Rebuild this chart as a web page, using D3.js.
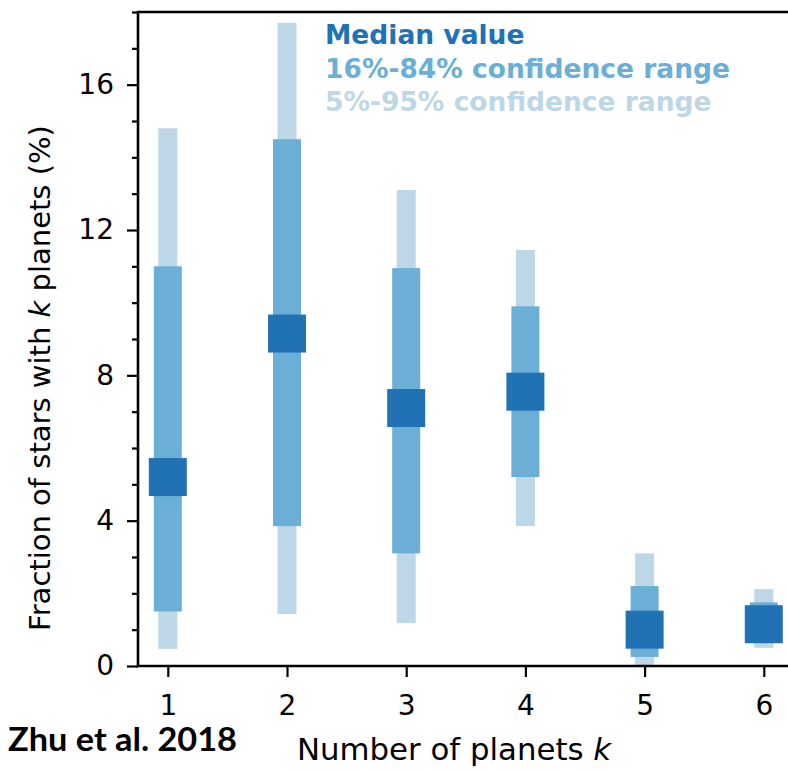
<!DOCTYPE html>
<html>
<head>
<meta charset="utf-8">
<script src="https://cdn.jsdelivr.net/npm/d3@7"></script>
<style>
  html, body { margin: 0; padding: 0; background: #fff; }
  svg { display: block; }
</style>
</head>
<body>
<svg id="chart" width="788" height="770"></svg>
<script>
// Number of planets per star
const categories = [1, 2, 3, 4, 5, 6];
// Median fraction of stars (%)
const median = [5.2, 9.15, 7.1, 7.55, 1.0, 1.15];
// 16%-84% confidence range
const p16 = [1.5, 3.85, 3.1, 5.2, 0.25, 0.7];
const p84 = [11.0, 14.5, 10.95, 9.9, 2.2, 1.75];
// 5%-95% confidence range
const p5 = [0.47, 1.43, 1.18, 3.85, 0.0, 0.5];
const p95 = [14.8, 17.7, 13.1, 11.45, 3.1, 2.12];
// Axis ticks
const yMajorTicks = [0, 4, 8, 12, 16];
const yMinorTicks = d3.range(0, 19, 1);
const legendItems = ["Median value", "16%-84% confidence range", "5%-95% confidence range"];

const colDark = "#2171b5", colMid = "#6baed6", colLight = "#bdd7e7";

const svg = d3.select("#chart");
const plotLeft = 138, plotBottom = 666, plotTop = 12;

const x = d3.scaleLinear().domain([0.75, 6.25]).range([plotLeft, plotLeft + 5.5 * 119.2]);
const y = d3.scaleLinear().domain([0, 18]).range([plotBottom, plotTop]);

const rows = categories.map((k, i) => ({ k, med: median[i], lo1: p16[i], hi1: p84[i], lo2: p5[i], hi2: p95[i] }));

// 5%-95% bars
svg.append("g").selectAll("rect").data(rows).join("rect")
  .attr("x", d => x(d.k) - 9.5).attr("width", 19)
  .attr("y", d => y(d.hi2)).attr("height", d => y(d.lo2) - y(d.hi2))
  .attr("fill", colLight);

// 16%-84% bars
svg.append("g").selectAll("rect").data(rows).join("rect")
  .attr("x", d => x(d.k) - 14).attr("width", 28)
  .attr("y", d => y(d.hi1)).attr("height", d => y(d.lo1) - y(d.hi1))
  .attr("fill", colMid);

// median square markers
svg.append("g").selectAll("rect").data(rows).join("rect")
  .attr("x", d => x(d.k) - 19).attr("width", 38)
  .attr("y", d => y(d.med) - 19).attr("height", 38)
  .attr("fill", colDark);

// y axis: minor ticks then major ticks with labels
const yMinor = svg.append("g").attr("transform", `translate(${plotLeft},0)`)
  .call(d3.axisLeft(y).tickValues(yMinorTicks.filter(v => !yMajorTicks.includes(v))).tickSize(6).tickFormat(""));
const yMajor = svg.append("g").attr("transform", `translate(${plotLeft},0)`)
  .call(d3.axisLeft(y).tickValues(yMajorTicks).tickSize(11).tickPadding(13));
[yMinor, yMajor].forEach(g => {
  g.select(".domain").remove();
  g.selectAll("line").attr("stroke", "#000").attr("stroke-width", 2.2);
});
yMajor.selectAll("text").attr("font-family", "DejaVu Sans").attr("font-size", 28).attr("fill", "#000");

// x axis
const xAxis = svg.append("g").attr("transform", `translate(0,${plotBottom})`)
  .call(d3.axisBottom(x).tickValues(categories).tickSize(11).tickPadding(18).tickFormat(d3.format("d")));
xAxis.select(".domain").remove();
xAxis.selectAll("line").attr("stroke", "#000").attr("stroke-width", 2.2);
xAxis.selectAll("text").attr("font-family", "DejaVu Sans").attr("font-size", 28).attr("fill", "#000");

// spines (left, bottom, top)
svg.append("line").attr("x1", plotLeft).attr("x2", plotLeft).attr("y1", plotTop).attr("y2", plotBottom)
  .attr("stroke", "#000").attr("stroke-width", 2.6);
svg.append("line").attr("x1", plotLeft - 1.3).attr("x2", 788).attr("y1", plotBottom).attr("y2", plotBottom)
  .attr("stroke", "#000").attr("stroke-width", 2.6);
svg.append("line").attr("x1", plotLeft - 1.3).attr("x2", 788).attr("y1", plotTop).attr("y2", plotTop)
  .attr("stroke", "#000").attr("stroke-width", 2.6);

// legend text
const legendColors = [colDark, colMid, colLight];
svg.append("g").selectAll("text").data(legendItems).join("text")
  .attr("x", 325).attr("y", (d, i) => 44 + i * 33.5)
  .attr("font-family", "DejaVu Sans").attr("font-weight", "bold").attr("font-size", 26.5)
  .attr("fill", (d, i) => legendColors[i])
  .text(d => d);

// y label
const yl = svg.append("text")
  .attr("transform", "translate(50,378) rotate(-90)")
  .attr("text-anchor", "middle")
  .attr("font-family", "DejaVu Sans").attr("font-size", 29).attr("fill", "#000");
yl.append("tspan").text("Fraction of stars with ");
yl.append("tspan").attr("font-style", "italic").text("k");
yl.append("tspan").text(" planets (%)");

// x label
const xl = svg.append("text")
  .attr("x", 297).attr("y", 760)
  .attr("font-family", "DejaVu Sans").attr("font-size", 30.8).attr("fill", "#000");
xl.append("tspan").text("Number of planets ");
xl.append("tspan").attr("font-style", "italic").text("k");

// citation
svg.append("text").attr("x", 8).attr("y", 751)
  .attr("font-family", "Lato").attr("font-weight", "bold").attr("font-size", 32).attr("fill", "#000")
  .attr("textLength", 229).attr("lengthAdjust", "spacingAndGlyphs")
  .text("Zhu et al. 2018");
</script>
</body>
</html>
